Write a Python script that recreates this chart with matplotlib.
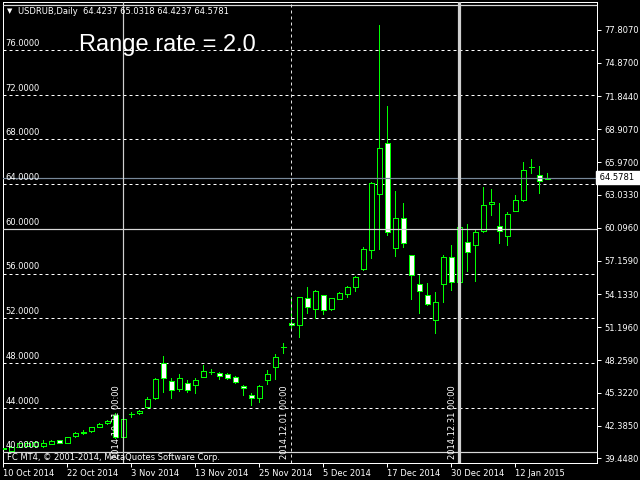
import matplotlib.pyplot as plt

# USDRUB daily candles, one per trading day, 10 Oct 2014 .. 14 Jan 2015
opens = [40.30, 40.14, 40.50, 40.59, 40.56, 40.59, 40.77, 41.07, 40.86, 41.43,
         41.70, 41.88, 42.29, 42.60, 43.36, 41.40, 43.40, 43.49, 44.08, 44.83,
         47.96, 46.35, 45.69, 46.23, 46.00, 46.77, 47.18, 47.12, 46.98, 46.71,
         45.93, 45.10, 44.83, 46.44, 47.66, 49.43, 51.54, 51.37, 53.78, 52.80,
         54.05, 52.85, 53.75, 54.19, 54.77, 56.38, 58.08, 63.09, 67.70, 58.25,
         60.94, 57.63, 55.03, 54.05, 51.81, 55.03, 57.45, 55.27, 58.79, 58.58,
         59.78, 62.26, 60.22, 59.38, 61.57, 62.55, 65.52, 64.79, 64.4237]
highs = [40.48, 40.55, 40.85, 40.98, 41.04, 41.07, 41.08, 41.12, 41.38, 41.78,
         42.00, 42.27, 42.60, 42.87, 43.54, 43.19, 43.61, 43.75, 44.92, 46.68,
         48.62, 46.62, 47.01, 46.47, 46.65, 47.79, 47.45, 47.21, 47.07, 46.80,
         46.02, 45.28, 46.02, 47.36, 48.80, 49.78, 53.87, 53.92, 54.77, 54.52,
         54.08, 53.80, 54.35, 54.88, 55.78, 58.34, 64.19, 78.24, 70.99, 63.38,
         62.31, 57.63, 55.89, 55.15, 54.34, 57.66, 58.52, 60.72, 60.43, 59.89,
         63.71, 63.53, 62.28, 61.50, 63.00, 65.95, 66.22, 65.59, 65.0318]
lows = [40.25, 40.10, 40.45, 40.55, 40.47, 40.50, 40.72, 40.82, 40.83, 41.40,
        41.68, 41.85, 42.27, 42.57, 41.32, 41.04, 43.13, 43.45, 43.94, 44.80,
        45.42, 44.89, 45.51, 45.42, 45.33, 46.75, 47.01, 46.53, 46.56, 46.17,
        45.13, 44.26, 44.53, 46.08, 46.59, 48.91, 50.94, 50.34, 52.44, 52.00,
        52.40, 52.73, 53.72, 53.92, 54.46, 56.31, 57.41, 58.22, 59.45, 57.59,
        58.40, 53.75, 52.49, 53.22, 50.70, 53.48, 54.52, 55.22, 56.25, 55.36,
        59.75, 61.26, 58.76, 58.58, 61.55, 62.53, 65.02, 63.23, 64.4237]
closes = [40.42, 40.50, 40.81, 40.86, 40.90, 40.81, 41.01, 40.86, 41.34, 41.73,
          41.84, 42.24, 42.51, 42.83, 41.40, 42.98, 43.42, 43.70, 44.80, 46.56,
          46.62, 45.58, 46.62, 45.58, 46.44, 47.25, 47.20, 46.80, 46.62, 46.29,
          45.73, 44.83, 45.96, 47.01, 48.50, 49.45, 51.37, 53.87, 53.03, 54.43,
          52.71, 53.78, 54.26, 54.79, 55.69, 58.17, 64.07, 67.20, 59.69, 60.94,
          58.70, 55.84, 54.41, 53.24, 53.42, 57.48, 55.21, 60.13, 57.95, 59.69,
          62.13, 62.40, 59.78, 61.30, 62.55, 65.23, 65.55, 64.25, 64.5781]

date_ticks = [0, 8, 16, 24, 32, 40, 48, 56, 64]
date_labels = ["10 Oct 2014", "22 Oct 2014", "3 Nov 2014", "13 Nov 2014", "25 Nov 2014",
               "5 Dec 2014", "17 Dec 2014", "30 Dec 2014", "12 Jan 2015"]

price_ticks = [39.448, 42.385, 45.322, 48.259, 51.196, 54.133, 57.159, 60.096,
               63.033, 65.970, 68.907, 71.844, 74.870, 77.807]
level_lines = [44, 48, 52, 56, 64, 68, 72, 76]
range_lines = [40, 60, 80]
level_labels = [40, 44, 48, 52, 56, 60, 64, 68, 72, 76, 80]
bid = 64.5781

vline_bars = [15, 36, 57]
vline_texts = ["2014.10.31 00:00", "2014.12.01 00:00", "2014.12.31 00:00"]

LIME = "#00FF00"
PX = 0.72  # one pixel in points at dpi 100

fig = plt.figure(figsize=(6.4, 4.8), dpi=100, facecolor="black")
ax = fig.add_axes([2.7 / 640, 1 - 462.7 / 480, (597.3 - 2.7) / 640, (462.7 - 2.3) / 480])
ax.set_facecolor("black")

# dashed level lines behind the candles
for v in level_lines:
    ax.axhline(v, color="white", lw=PX, ls=(0, (3, 3)), zorder=1)

# candles (crisp 1px outlines like the terminal draws them)
x = list(range(len(opens)))
ax.vlines(x, lows, highs, color=LIME, lw=0.5, zorder=2, antialiased=False)
bottoms = [min(o, c) for o, c in zip(opens, closes)]
heights = [abs(c - o) for o, c in zip(opens, closes)]
faces = ["black" if c > o else "white" for o, c in zip(opens, closes)]
bars = ax.bar(x, heights, bottom=bottoms, width=0.6, color=faces, edgecolor=LIME,
              linewidth=0.5, zorder=3)
for b in bars:
    b.set_antialiased(False)

# range lines, bid line, vertical lines on top
for v in range_lines:
    ax.axhline(v, color="#D8D8D8", lw=PX * 1.2, zorder=4)
ax.axhline(bid, color="#778899", lw=PX * 1.2, zorder=4)
ax.axvline(vline_bars[0], color="#D0D0D0", lw=PX * 1.2, zorder=4)
ax.axvline(vline_bars[1], color="#E0E0E0", lw=PX, ls=(0, (3, 3)), zorder=4)
ax.axvline(vline_bars[2], color="#D0D0D0", lw=PX * 3.2, zorder=4)
for b, t in zip(vline_bars, vline_texts):
    ax.text(b - 0.85, 39.42, t, rotation=90, ha="center", va="bottom",
            color="white", fontsize=6, zorder=5)

# level labels on the left (the 80 one is mostly hidden above the frame)
for v in level_labels:
    ax.text(0.3, v + 0.18, f"{v:.4f}", color="white", fontsize=6,
            ha="left", va="bottom", zorder=5, clip_on=True)

ax.set_xlim(-0.075, 74.25)
ax.set_ylim(39.07, 80.268)

ax.yaxis.tick_right()
ax.set_yticks(price_ticks)
ax.set_yticklabels([f"{v:.4f}" for v in price_ticks])
ax.tick_params(axis="y", colors="white", labelsize=6, length=3, width=PX, pad=2)
ax.set_xticks(date_ticks)
ax.set_xticklabels(date_labels)
ax.tick_params(axis="x", colors="white", labelsize=6, length=3, width=PX, pad=1.5)
for lbl in ax.get_xticklabels():
    lbl.set_ha("left")
for s in ax.spines.values():
    s.set_color("white")
    s.set_linewidth(PX)

# bid price box on the price scale
ax.text(1.0, bid, " 64.5781  ", transform=ax.get_yaxis_transform(), ha="left",
        va="center", color="black", fontsize=6, clip_on=False, zorder=6,
        bbox=dict(facecolor="white", edgecolor="white", pad=1.2))

fig.text(7 / 640, 1 - 11 / 480, "\u25BC", color="white", fontsize=5, va="center")
fig.text(18 / 640, 1 - 11 / 480, "USDRUB,Daily  64.4237 65.0318 64.4237 64.5781",
         color="white", fontsize=6, va="center")
fig.text(79 / 640, 1 - 51 / 480, "Range rate = 2.0", color="white", fontsize=17,
         family="Liberation Sans", va="baseline")
fig.text(7 / 640, 1 - 457 / 480, "FC MT4, \u00A9 2001-2014, MetaQuotes Software Corp.",
         color="white", fontsize=6, va="center")

fig.savefig("out.png", dpi=100, facecolor="black")
